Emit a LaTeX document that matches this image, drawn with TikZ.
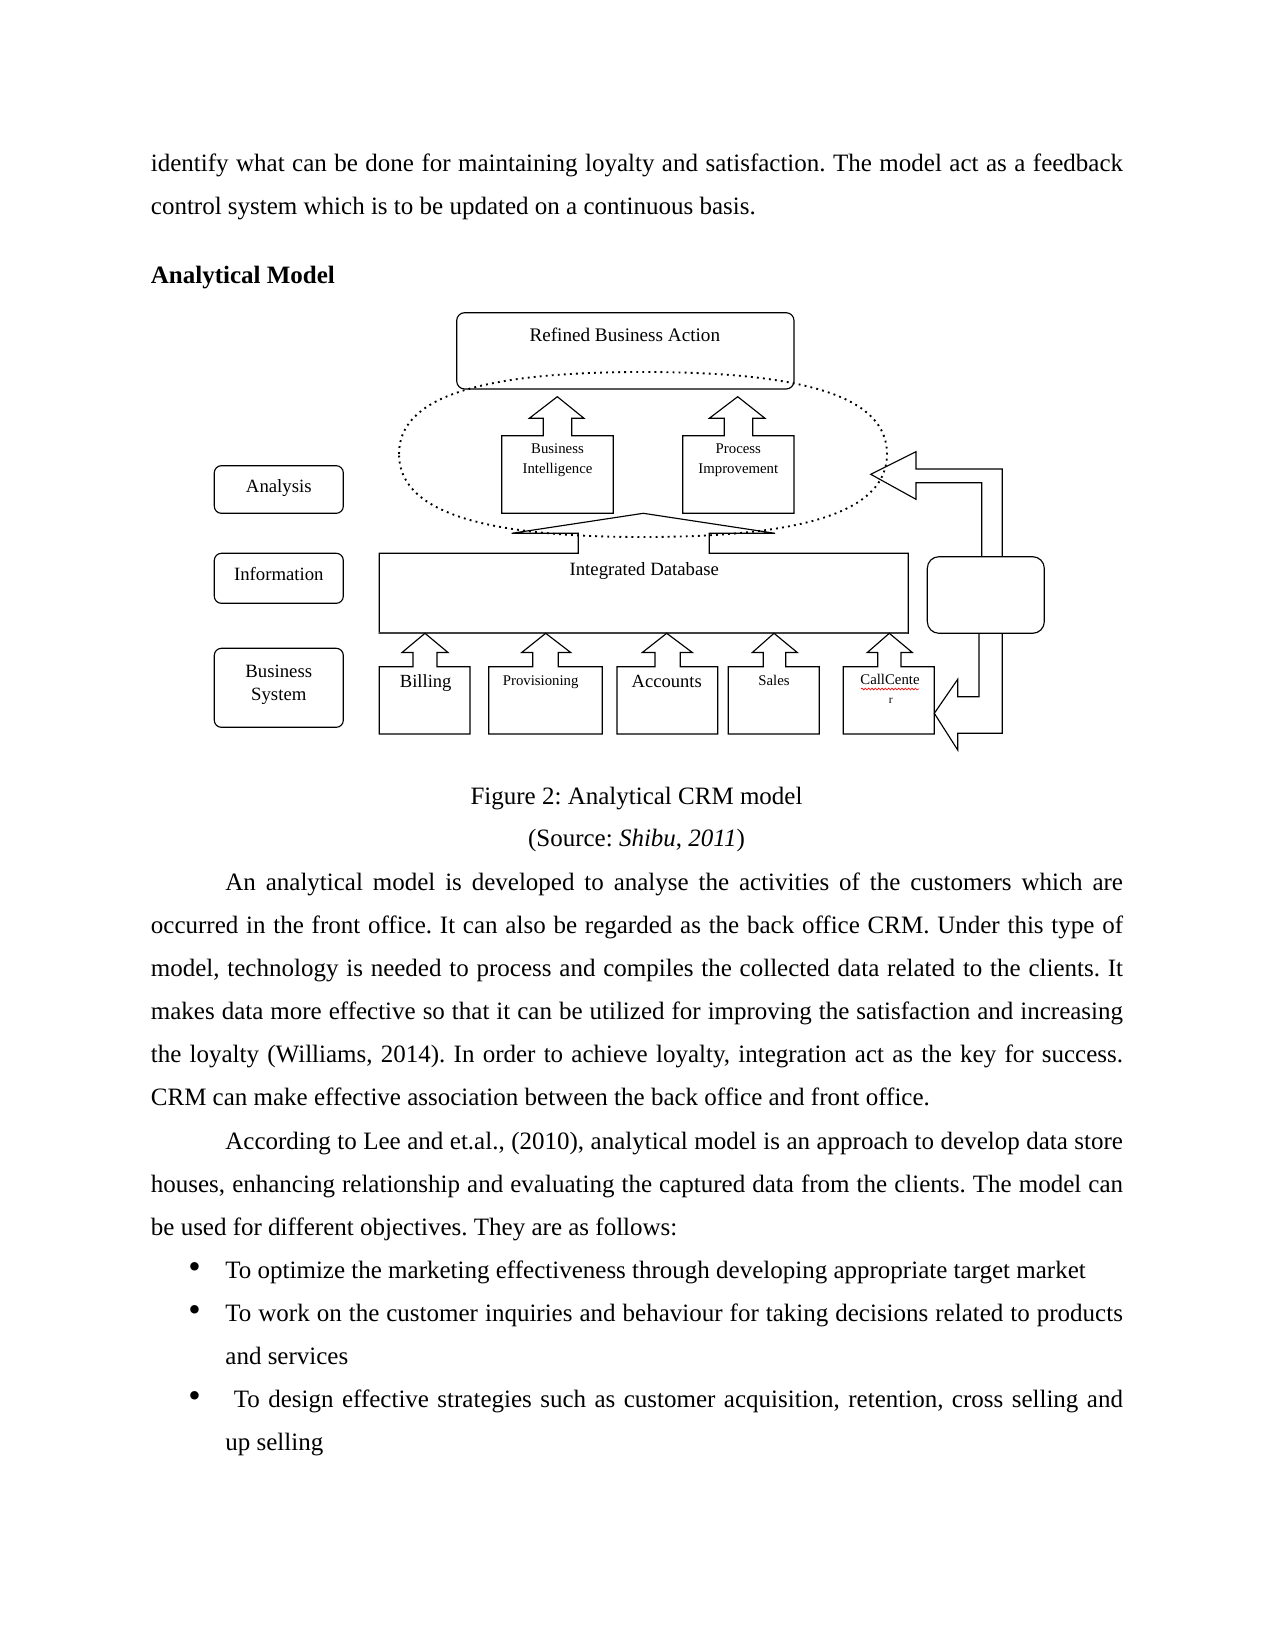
\documentclass[tikz,border=0pt]{standalone}
\usepackage{fontspec}
\setmainfont{Liberation Serif}
\usetikzlibrary{decorations.pathmorphing}
\frenchspacing
\newcommand\sbx[7]{\draw[dg] (#1,734) -- (#1,666.7) -- (#3,666.7) -- (#3,652.5) -- (#5,652.5) -- (#7,633.3) -- (#6,652.5) -- (#4,652.5) -- (#4,666.7) -- (#2,666.7) -- (#2,734) -- cycle;}
\newcommand\jline[2]{\hbox to #1{#2}}
\begin{document}
\begin{tikzpicture}[x=0.48pt,y=-0.48pt,
  dg/.style={draw, line width=0.55pt},
  lbox/.style={draw, line width=0.55pt, rounded corners=3.4pt},
  body/.style={anchor=base west, inner sep=0pt, font=\fontsize{12}{14}\selectfont\frenchspacing},
  cbody/.style={anchor=base, inner sep=0pt, font=\fontsize{12}{14}\selectfont\frenchspacing},
  bul/.style={anchor=center, inner sep=0pt, font=\fontsize{17}{17}\selectfont},
  lab/.style={anchor=base, inner sep=0pt, font=\fontsize{9}{11}\selectfont},
  slab/.style={anchor=base, inner sep=0pt, font=\fontsize{7.1}{9.3}\selectfont, align=center}]
\fill[white] (0,0) rectangle (1275,1651);
\useasboundingbox (0,0) rectangle (1275,1651);

% ---------- body text above ----------
\node[body] (t1) at (150.5,171.7) {\jline{466.6pt}{identify what can be done for maintaining loyalty and satisfaction. The model act as a feedback}};
\node[body] (t2) at (150.5,214.8) {control system which is to be updated on a continuous basis.};
\node[body] (t3) at (150.5,283.3) {\textbf{Analytical Model}};

% ---------- diagram ----------
% left label boxes
\draw[lbox] (214.3,465.7) rectangle (343.3,513.3);
\draw[lbox] (214.3,553.3) rectangle (343.3,603.3);
\draw[lbox] (214.3,648.3) rectangle (343.3,727.3);
\node[lab] (lA) at (278.8,492.5) {Analysis};
\node[lab] (lI) at (278.8,580) {Information};
\node[lab] (lB1) at (278.8,677.5) {Business};
\node[lab] (lB2) at (278.8,700) {System};

% refined business action
\draw[lbox, rounded corners=3.8pt] (456.7,312.7) rectangle (794,389);
\node[lab, font=\fontsize{9.2}{11}\selectfont] (rba) at (624.8,341) {Refined Business Action};

% dotted ellipse
\draw[line width=0.9pt, dotted] (399,454) .. controls (399,398) and (477,372) .. (643,372)
  .. controls (809,372) and (887,398) .. (887,454)
  .. controls (887,510) and (809,537) .. (643,537)
  .. controls (477,537) and (399,510) .. (399,454) -- cycle;

% business intelligence / process improvement
\draw[dg] (501.7,513.3) -- (501.7,435.7) -- (543.3,435.7) -- (543.3,418.3) -- (529.3,418.3) -- (557.3,396.7) -- (584,418.3) -- (571.7,418.3) -- (571.7,435.7) -- (613.3,435.7) -- (613.3,513.3) -- cycle;
\draw[dg] (682.7,513.3) -- (682.7,435.7) -- (724.3,435.7) -- (724.3,418.3) -- (709.3,418.3) -- (737.7,396.7) -- (765,418.3) -- (752.7,418.3) -- (752.7,435.7) -- (794,435.7) -- (794,513.3) -- cycle;
\node[slab] (bi1) at (557.5,453.5) {Business};
\node[slab] (bi2) at (557.5,473) {Intelligence};
\node[slab] (pi1) at (738.3,453.5) {Process};
\node[slab] (pi2) at (738.3,473) {Improvement};

% integrated database with big arrow
\draw[dg] (379.3,633.3) -- (379.3,553.3) -- (578.3,553.3) -- (578.3,533.3) -- (511.7,533.3) -- (643.3,513.3) -- (775,533.3) -- (709.3,533.3) -- (709.3,553.3) -- (908.3,553.3) -- (908.3,633.3) -- cycle;
\draw[line width=1.1pt, black!75] (379.3,633.3) -- (908.3,633.3);
\node[lab] (idb) at (644.3,575) {Integrated Database};

% business system boxes with arrows
\sbx{379.3}{470}{413}{437}{402}{448}{425}
\sbx{488.7}{602.3}{532.7}{558.3}{521.7}{570.7}{545.7}
\sbx{617}{717.7}{655}{680.3}{642.3}{692.3}{666.7}
\sbx{728.3}{819.3}{763.3}{785.7}{752.3}{797.3}{774}
\sbx{843.3}{934.3}{877.7}{901}{867.3}{912.3}{889.3}
\node[lab, font=\fontsize{8.9}{11}\selectfont] (bil) at (425.7,687.5) {Billing};
\node[slab] (prov) at (540.7,685.5) {Provisioning};
\node[lab, font=\fontsize{8.9}{11}\selectfont] (acc) at (666.7,687.5) {Accounts};
\node[slab] (sal) at (774,685) {Sales};
\node[slab] (cc1) at (890,684.5) {CallCente};
\node[slab, font=\fontsize{5.5}{7}\selectfont] (cc2) at (890.7,703) {r};
\draw[red, line width=0.3pt, decorate, decoration={snake, amplitude=0.45pt, segment length=1.6pt}] (861,689) -- (919,689);

% right rounded box
\draw[dg, rounded corners=5.6pt] (927.3,556.7) rectangle (1044.3,633.3);

% feedback arrows
\draw[dg, line join=miter] (1002.3,556.7) -- (1002.3,469) -- (916,469) -- (916,451.7) -- (870.7,474.3) -- (916,499.3) -- (916,482.7) -- (981.7,482.7) -- (981.7,556.7);
\draw[dg, line join=miter] (1002.3,633.3) -- (1002.3,733.3) -- (957.7,733.3) -- (957.7,750) -- (934.3,713.3) -- (957.7,679.3) -- (957.7,696.7) -- (979,696.7) -- (979,633.3);

% ---------- caption ----------
\node[cbody] (cap1) at (636.5,804.3) {Figure 2: Analytical CRM model};
\node[cbody] (cap2) at (636.5,846.5) {(Source: \textit{Shibu}, \textit{2011})};

% ---------- body text below ----------
\node[body] (p1) at (225,890.4) {\jline{430.8pt}{An analytical model is developed to analyse the activities of the customers which are}};
\node[body] (p2) at (150.5,933.5) {\jline{466.6pt}{occurred in the front office. It can also be regarded as the back office CRM. Under this type of}};
\node[body] (p3) at (150.5,976.6) {\jline{466.6pt}{model, technology is needed to process and compiles the collected data related to the clients. It}};
\node[body] (p4) at (150.5,1019.7) {\jline{466.6pt}{makes data more effective so that it can be utilized for improving the satisfaction and increasing}};
\node[body] (p5) at (150.5,1062.8) {\jline{466.6pt}{the loyalty (Williams, 2014). In order to achieve loyalty, integration act as the key for success.}};
\node[body] (p6) at (150.5,1105.9) {CRM can make effective association between the back office and front office.};
\node[body] (q1) at (225,1149) {\jline{430.8pt}{According to Lee and et.al., (2010), analytical model is an approach to develop data store}};
\node[body] (q2) at (150.5,1192.1) {\jline{466.6pt}{houses, enhancing relationship and evaluating the captured data from the clients. The model can}};
\node[body] (q3) at (150.5,1235.2) {be used for different objectives. They are as follows:};

\node[bul] (bu1) at (194.5,1270.5) {\textbullet};
\node[bul] (bu2) at (194.5,1313.6) {\textbullet};
\node[bul] (bu3) at (194.5,1399.8) {\textbullet};
\node[body] (b1) at (225,1278.3) {To optimize the marketing effectiveness through developing appropriate target market};
\node[body] (b2) at (225,1321.4) {\jline{430.8pt}{To work on the customer inquiries and behaviour for taking decisions related to products}};
\node[body] (b2b) at (225,1364.5) {and services};
\node[body] (b3) at (225,1407.6) {\jline{430.8pt}{\ To design effective strategies such as customer acquisition, retention, cross selling and}};
\node[body] (b3b) at (225,1450.7) {up selling};
\end{tikzpicture}
\end{document}
